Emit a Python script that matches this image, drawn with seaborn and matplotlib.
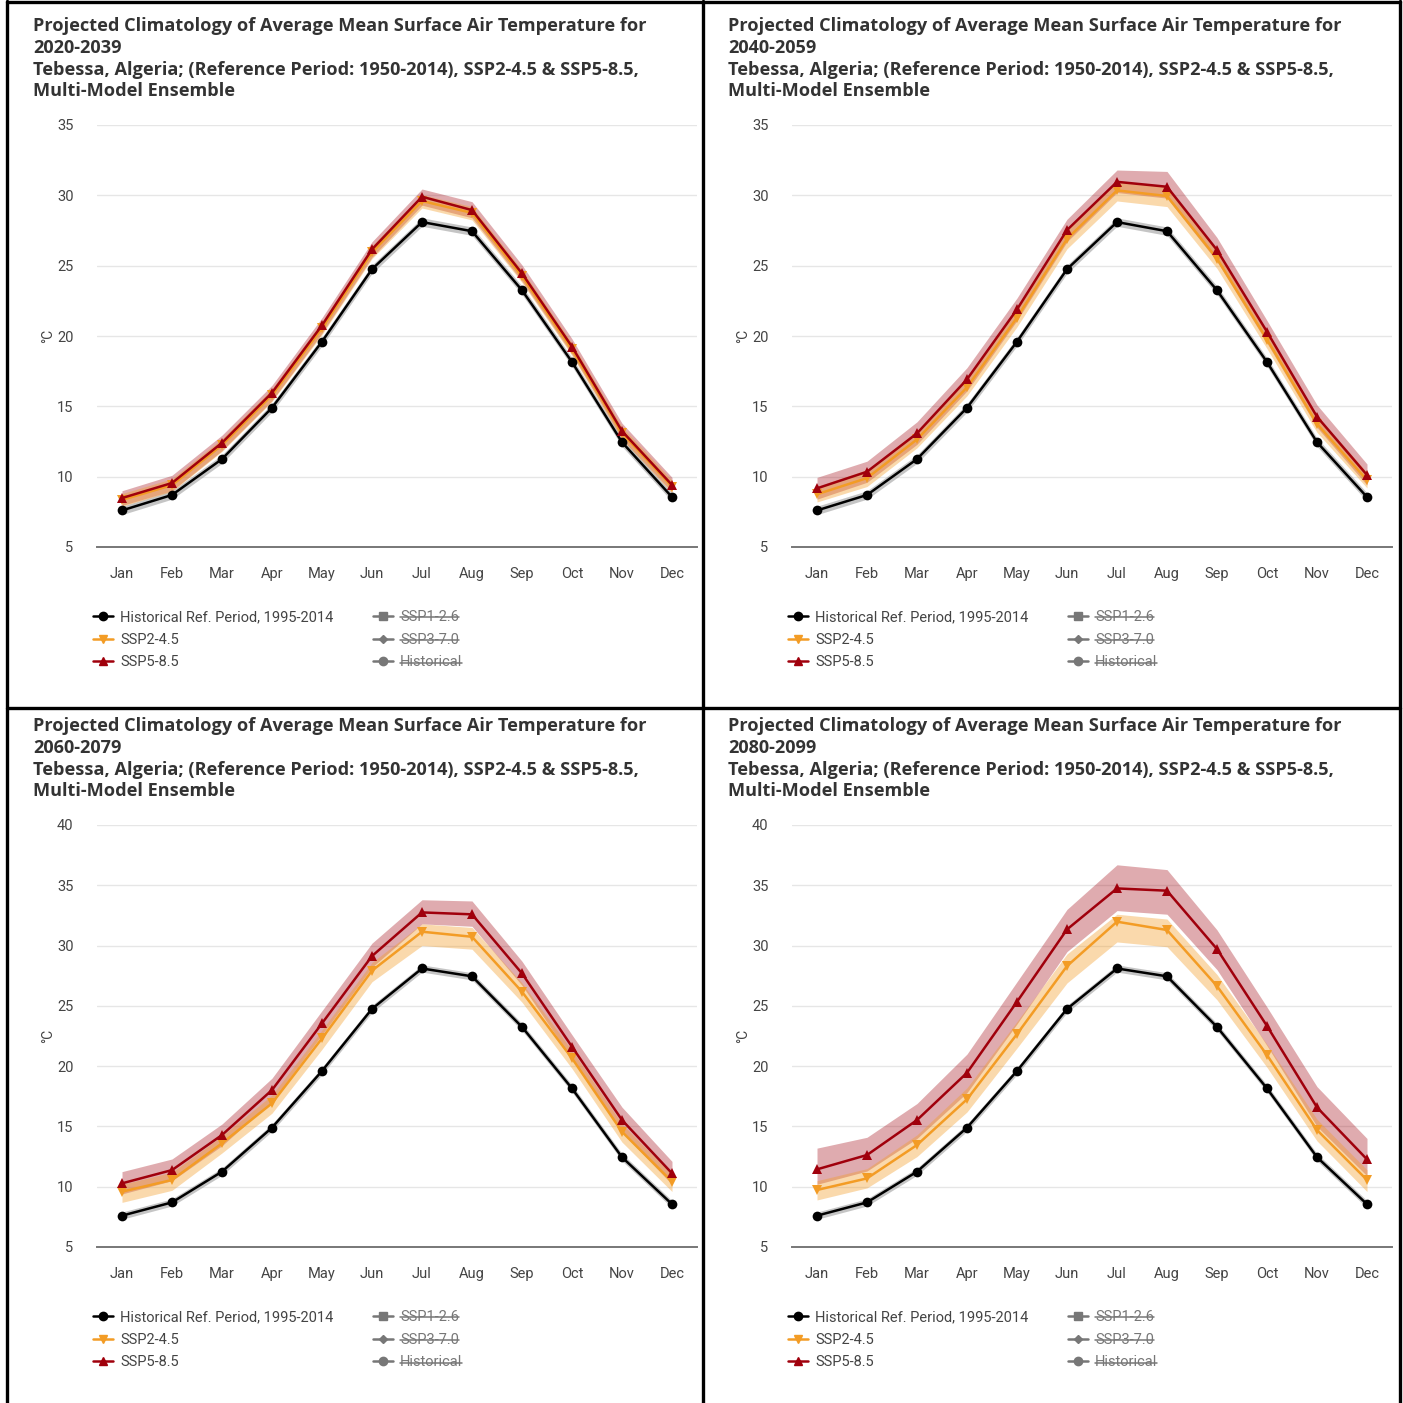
import numpy as np
import pandas as pd
import matplotlib
matplotlib.use("Agg")
import matplotlib.pyplot as plt
from matplotlib.lines import Line2D
import seaborn as sns

# ---- data -------------------------------------------------------------
MONTHS = ["Jan", "Feb", "Mar", "Apr", "May", "Jun",
          "Jul", "Aug", "Sep", "Oct", "Nov", "Dec"]

HIST = [7.6, 8.7, 11.25, 14.9, 19.6, 24.75, 28.1, 27.45, 23.25, 18.15, 12.45, 8.55]
HIST_LOW = [7.3, 8.4, 10.95, 14.6, 19.3, 24.45, 27.8, 27.15, 22.95, 17.85, 12.15, 8.25]
HIST_HIGH = [7.9, 9.0, 11.55, 15.2, 19.9, 25.05, 28.4, 27.75, 23.55, 18.45, 12.75, 8.85]

PERIODS = ["2020-2039", "2040-2059", "2060-2079", "2080-2099"]

SSP245_2020 = [8.35, 9.4, 12.25, 15.8, 20.55, 25.95, 29.6, 28.75, 24.25, 19.05, 13.1, 9.3]
SSP245_2020_LOW = [7.9, 8.95, 11.8, 15.35, 20.1, 25.5, 29.1, 28.25, 23.8, 18.6, 12.65, 8.85]
SSP245_2020_HIGH = [8.8, 9.85, 12.7, 16.25, 21.0, 26.4, 30.05, 29.2, 24.7, 19.5, 13.55, 9.75]
SSP585_2020 = [8.48, 9.55, 12.41, 15.97, 20.76, 26.16, 29.9, 28.95, 24.45, 19.24, 13.24, 9.41]
SSP585_2020_LOW = [7.95, 9.0, 11.85, 15.4, 20.2, 25.6, 29.3, 28.4, 23.9, 18.7, 12.7, 8.9]
SSP585_2020_HIGH = [9.0, 10.1, 12.95, 16.5, 21.3, 26.7, 30.45, 29.55, 25.05, 19.8, 13.8, 9.95]

SSP245_2040 = [8.75, 9.9, 12.65, 16.35, 21.3, 26.9, 30.35, 29.95, 25.5, 19.75, 13.75, 9.75]
SSP245_2040_LOW = [8.2, 9.3, 12.05, 15.75, 20.65, 26.2, 29.6, 29.2, 24.8, 19.1, 13.15, 9.2]
SSP245_2040_HIGH = [9.3, 10.5, 13.25, 16.95, 21.9, 27.5, 31.0, 30.6, 26.1, 20.35, 14.3, 10.3]
SSP585_2040 = [9.17, 10.35, 13.08, 16.92, 21.89, 27.53, 30.96, 30.61, 26.11, 20.3, 14.26, 10.12]
SSP585_2040_LOW = [8.4, 9.6, 12.3, 16.1, 21.1, 26.7, 30.2, 29.8, 25.3, 19.5, 13.5, 9.4]
SSP585_2040_HIGH = [9.95, 11.1, 13.9, 17.75, 22.7, 28.3, 31.8, 31.7, 27.0, 21.1, 15.1, 10.9]

SSP245_2060 = [9.59, 10.56, 13.6, 16.92, 22.3, 27.92, 31.15, 30.73, 26.17, 20.65, 14.56, 10.42]
SSP245_2060_LOW = [8.7, 9.7, 12.8, 16.1, 21.4, 27.0, 30.0, 29.7, 25.3, 19.8, 13.7, 9.6]
SSP245_2060_HIGH = [10.2, 11.2, 14.2, 17.6, 23.0, 28.6, 31.8, 31.5, 26.9, 21.3, 15.2, 11.0]
SSP585_2060 = [10.28, 11.38, 14.29, 18.02, 23.55, 29.13, 32.75, 32.59, 27.69, 21.61, 15.53, 11.11]
SSP585_2060_LOW = [9.4, 10.5, 13.4, 17.1, 22.6, 28.2, 31.8, 31.6, 26.7, 20.6, 14.5, 10.2]
SSP585_2060_HIGH = [11.25, 12.3, 15.2, 19.0, 24.6, 30.2, 33.8, 33.7, 28.7, 22.6, 16.6, 12.1]

SSP245_2080 = [9.73, 10.69, 13.46, 17.25, 22.66, 28.3, 31.98, 31.29, 26.64, 20.92, 14.7, 10.56]
SSP245_2080_LOW = [8.9, 9.9, 12.5, 16.2, 21.5, 26.9, 30.3, 29.9, 25.5, 19.9, 13.8, 9.6]
SSP245_2080_HIGH = [10.5, 11.5, 14.3, 18.2, 23.7, 29.3, 32.6, 32.2, 27.6, 21.8, 15.6, 11.4]
SSP585_2080 = [11.44, 12.63, 15.53, 19.45, 25.34, 31.34, 34.74, 34.55, 29.71, 23.33, 16.58, 12.27]
SSP585_2080_LOW = [10.2, 11.3, 14.0, 17.8, 23.5, 29.5, 32.9, 32.6, 28.0, 21.7, 15.0, 10.9]
SSP585_2080_HIGH = [13.2, 14.1, 16.9, 21.0, 27.0, 33.0, 36.7, 36.3, 31.3, 24.9, 18.3, 14.0]

Y_TOP = [35, 35, 40, 40]

LEGEND_LEFT = ["Historical Ref. Period, 1995-2014", "SSP2-4.5", "SSP5-8.5"]
LEGEND_RIGHT = ["SSP1-2.6", "SSP3-7.0", "Historical"]

# ---- styling ----------------------------------------------------------
sns.set_theme(style="white")
plt.rcParams["font.family"] = ["Roboto", "DejaVu Sans"]

C_HIST = "#000000"
C_245 = "#f39c25"
C_585 = "#a0000c"
C_TXT = "#444444"
C_OFF = "#777777"

W = H = 1403
fig = plt.figure(figsize=(W / 100, H / 100), dpi=100)


def fx(px):
    return px / W


def fy(py):
    return 1 - py / H


panels = [
    dict(left=97, top=125, period=PERIODS[0], s245=(SSP245_2020, SSP245_2020_LOW, SSP245_2020_HIGH),
         s585=(SSP585_2020, SSP585_2020_LOW, SSP585_2020_HIGH)),
    dict(left=792, top=125, period=PERIODS[1], s245=(SSP245_2040, SSP245_2040_LOW, SSP245_2040_HIGH),
         s585=(SSP585_2040, SSP585_2040_LOW, SSP585_2040_HIGH)),
    dict(left=97, top=825, period=PERIODS[2], s245=(SSP245_2060, SSP245_2060_LOW, SSP245_2060_HIGH),
         s585=(SSP585_2060, SSP585_2060_LOW, SSP585_2060_HIGH)),
    dict(left=792, top=825, period=PERIODS[3], s245=(SSP245_2080, SSP245_2080_LOW, SSP245_2080_HIGH),
         s585=(SSP585_2080, SSP585_2080_LOW, SSP585_2080_HIGH)),
]

AX_W, AX_H = 600, 422
x = np.arange(len(MONTHS))
strike_texts = []

for i, p in enumerate(panels):
    ax = fig.add_axes([fx(p["left"]), fy(p["top"] + AX_H), AX_W / W, AX_H / H])
    m245, lo245, hi245 = p["s245"]
    m585, lo585, hi585 = p["s585"]

    # uncertainty envelopes
    ax.fill_between(x, HIST_LOW, HIST_HIGH, color="#808080", alpha=0.45, lw=0, zorder=1)
    ax.fill_between(x, lo585, hi585, color=C_585, alpha=0.33, lw=0, zorder=2)
    ax.fill_between(x, lo245, hi245, color=C_245, alpha=0.38, lw=0, zorder=3)

    df = pd.DataFrame({
        "month": np.tile(x, 3),
        "temp": np.concatenate([HIST, m245, m585]),
        "series": np.repeat(["hist", "ssp245", "ssp585"], len(x)),
    })
    sns.lineplot(data=df, x="month", y="temp", hue="series", style="series",
                 palette={"hist": C_HIST, "ssp245": C_245, "ssp585": C_585},
                 markers={"hist": "o", "ssp245": "v", "ssp585": "^"},
                 dashes=False, linewidth=1.8, markersize=7, markeredgewidth=0,
                 legend=False, ax=ax, zorder=5)
    for ln, z in zip(ax.get_lines(), [4, 5, 6]):
        ln.set_zorder(z)

    ytop = Y_TOP[i]
    ax.set_xlim(-0.5, 11.5)
    ax.set_ylim(5, ytop)
    ax.set_yticks(np.arange(5, ytop + 1, 5))
    ax.set_xticks(x)
    ax.set_xticklabels(MONTHS)
    ax.set_xlabel("")
    ax.set_ylabel("°C", color=C_TXT, fontsize=10, labelpad=1)
    ax.yaxis.grid(True, color="#e6e6e6", lw=1.0)
    ax.xaxis.grid(False)
    for s in ["top", "right", "left"]:
        ax.spines[s].set_visible(False)
    ax.spines["bottom"].set_color("#777777")
    ax.spines["bottom"].set_linewidth(1.4)
    ax.tick_params(axis="both", length=0, labelsize=10.5, labelcolor=C_TXT)
    ax.tick_params(axis="x", pad=14.5)
    ax.tick_params(axis="y", pad=17)

    # title block
    title = ("Projected Climatology of Average Mean Surface Air Temperature for\n"
             f"{p['period']}\n"
             "Tebessa, Algeria; (Reference Period: 1950-2014), SSP2-4.5 & SSP5-8.5,\n"
             "Multi-Model Ensemble")
    fig.text(fx(p["left"] - 64), fy(p["top"] - 108), title, ha="left", va="top",
             fontsize=13.1, fontweight="bold", color="#333333", family="Open Sans",
             linespacing=1.27)

    # legend, two columns
    h_left = [
        Line2D([], [], color=C_HIST, marker="o", lw=1.8, ms=6),
        Line2D([], [], color=C_245, marker="v", lw=1.8, ms=6),
        Line2D([], [], color=C_585, marker="^", lw=1.8, ms=6),
    ]
    h_right = [
        Line2D([], [], color=C_OFF, marker="s", lw=1.8, ms=6),
        Line2D([], [], color=C_OFF, marker="D", lw=1.8, ms=4),
        Line2D([], [], color=C_OFF, marker="o", lw=1.8, ms=6),
    ]
    leg_y = -63 / AX_H
    kw = dict(loc="upper left", frameon=False, fontsize=10.5, handlelength=1.4,
              handletextpad=0.45, labelspacing=0.6, borderpad=0, borderaxespad=0)
    lg1 = ax.legend(h_left, LEGEND_LEFT, bbox_to_anchor=(-4 / AX_W, leg_y), labelcolor=C_TXT, **kw)
    ax.add_artist(lg1)
    lg2 = ax.legend(h_right, LEGEND_RIGHT, bbox_to_anchor=(276 / AX_W, leg_y), labelcolor=C_OFF, **kw)
    strike_texts.extend(lg2.get_texts())

# strike through the disabled legend entries
fig.canvas.draw()
inv = fig.transFigure.inverted()
for t in strike_texts:
    bb = t.get_window_extent()
    (x0, y0), (x1, y1) = inv.transform([(bb.x0, bb.y0), (bb.x1, bb.y1)])
    ym = y0 + (y1 - y0) * 0.48
    fig.add_artist(Line2D([x0, x1], [ym, ym], color=C_OFF, lw=1.1, transform=fig.transFigure))

# panel frame lines
frame = dict(color="black", lw=2.4, transform=fig.transFigure)
for xv in [7, 703, 1399.5]:
    fig.add_artist(Line2D([fx(xv), fx(xv)], [0, fy(1)], **frame))
for yv in [1.5, 708]:
    fig.add_artist(Line2D([fx(7), fx(1399.5)], [fy(yv), fy(yv)], **frame))

fig.savefig("out.png", dpi=100, facecolor="white")
